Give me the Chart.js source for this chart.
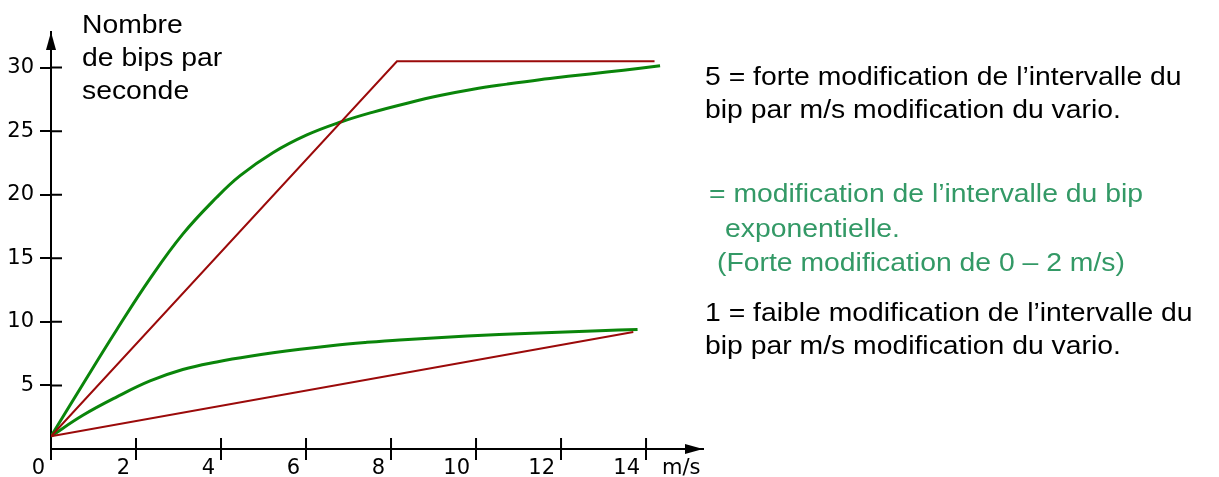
<!DOCTYPE html>
<html>
<head>
<meta charset="utf-8">
<script src="https://cdn.jsdelivr.net/npm/chart.js@4.4.1/dist/chart.umd.min.js"></script>
<style>
  body { margin: 0; background: #fff; }
  #wrap { position: relative; width: 1219px; height: 477px; overflow: hidden; }
  canvas { position: absolute; left: 0; top: 0; }
  .t { position: absolute; font-family: "Liberation Sans", Arial, sans-serif; font-size: 26px;
       line-height: 33px; white-space: nowrap; transform: scaleX(1.09); transform-origin: left center; color: #000; }
  .g { color: #339966; }
  .unit { position: absolute; font-family: "DejaVu Sans", Verdana, sans-serif; font-size: 21px;
          line-height: 24px; left: 662px; top: 455px; white-space: nowrap; }
</style>
</head>
<body>
<div id="wrap">
  <canvas id="chart" width="1219" height="477"></canvas>
  <div class="t" style="left:82px;top:8px">Nombre</div>
  <div class="t" style="left:82px;top:41px">de bips par</div>
  <div class="t" style="left:82px;top:74px">seconde</div>
  <div class="t" style="left:705px;top:60px">5 = forte modification de l’intervalle du</div>
  <div class="t" style="left:705px;top:93px">bip par m/s modification du vario.</div>
  <div class="t g" style="left:709px;top:177px">= modification de l’intervalle du bip</div>
  <div class="t g" style="left:725px;top:212px">exponentielle.</div>
  <div class="t g" style="left:717px;top:246px">(Forte modification de 0 – 2 m/s)</div>
  <div class="t" style="left:705px;top:296px">1 = faible modification de l’intervalle du</div>
  <div class="t" style="left:705px;top:329px">bip par m/s modification du vario.</div>
  <div class="unit">m/s</div>
</div>
<script>
// tick values
let xTicks = [0, 2, 4, 6, 8, 10, 12, 14];
let yTicks = [5, 10, 15, 20, 25, 30];

// 5 = strong change (linear then capped)
let redHighX = [0, 8.14, 14.2];
let redHighY = [1, 30.5, 30.5];
// exponential, strong
let greenHighX = [0, 0.75, 1.55, 2.33, 3.1, 3.9, 4.45, 5.22, 6.02, 6.8, 7.58, 8.38, 9.15, 9.93, 10.73, 11.5, 12.28, 13.08, 13.86, 14.33];
let greenHighY = [1, 5.1, 9.4, 13.4, 16.9, 19.8, 21.5, 23.3, 24.7, 25.7, 26.5, 27.2, 27.8, 28.3, 28.7, 29.05, 29.35, 29.65, 29.95, 30.15];
// exponential, weak
let greenLowX = [0, 0.75, 1.55, 2.33, 3.1, 3.9, 4.68, 5.86, 6.64, 7.4, 8.2, 9.79, 11.3, 12.9, 13.8];
let greenLowY = [1, 2.65, 4.1, 5.35, 6.25, 6.85, 7.3, 7.85, 8.15, 8.38, 8.58, 8.88, 9.1, 9.3, 9.4];
// 1 = weak change
let redLowX = [0, 13.7];
let redLowY = [1, 9.2];

function pts(xs, ys) {
  return xs.map((x, i) => ({ x: x, y: ys[i] }));
}

let red = '#9b0a0a';
let green = '#0a850a';

// inner half of tick marks + arrow heads
let axisExtras = {
  id: 'axisExtras',
  afterDraw(chart) {
    let ctx = chart.ctx;
    let xs = chart.scales.x, ys = chart.scales.y;
    let x0 = xs.getPixelForValue(0), y0 = ys.getPixelForValue(0);
    ctx.save();
    ctx.strokeStyle = '#000';
    ctx.fillStyle = '#000';
    ctx.lineWidth = 2;
    ctx.beginPath();
    xTicks.forEach(v => {
      if (v === 0) return;
      let px = xs.getPixelForValue(v);
      ctx.moveTo(px, y0);
      ctx.lineTo(px, y0 - 11);
    });
    yTicks.forEach(v => {
      let py = ys.getPixelForValue(v);
      ctx.moveTo(x0, py);
      ctx.lineTo(x0 + 11, py);
    });
    ctx.stroke();
    // y arrow
    let top = chart.chartArea.top;
    ctx.beginPath();
    ctx.moveTo(x0, top);
    ctx.lineTo(x0 - 5, top + 18);
    ctx.lineTo(x0 + 5, top + 18);
    ctx.closePath();
    ctx.fill();
    // x arrow
    let right = chart.chartArea.right;
    ctx.beginPath();
    ctx.moveTo(right, y0);
    ctx.lineTo(right - 18, y0 - 5);
    ctx.lineTo(right - 18, y0 + 5);
    ctx.closePath();
    ctx.fill();
    ctx.restore();
  }
};

new Chart(document.getElementById('chart'), {
  type: 'scatter',
  data: {
    datasets: [
      { data: pts(redLowX, redLowY), borderColor: red, borderWidth: 2, showLine: true, pointRadius: 0, tension: 0 },
      { data: pts(redHighX, redHighY), borderColor: red, borderWidth: 2, showLine: true, pointRadius: 0, tension: 0 },
      { data: pts(greenLowX, greenLowY), borderColor: green, borderWidth: 3, showLine: true, pointRadius: 0, tension: 0.4 },
      { data: pts(greenHighX, greenHighY), borderColor: green, borderWidth: 3, showLine: true, pointRadius: 0, tension: 0.4 }
    ]
  },
  options: {
    responsive: false,
    animation: false,
    devicePixelRatio: 1,
    layout: { padding: { left: 0, right: 516, top: 32, bottom: 0 } },
    plugins: { legend: { display: false }, tooltip: { enabled: false } },
    scales: {
      x: {
        type: 'linear',
        min: 0,
        max: 15.34,
        afterBuildTicks: s => { s.ticks = xTicks.map(v => ({ value: v })); },
        afterFit: s => { s.height = 28; },
        border: { display: true, color: '#000', width: 2 },
        grid: { drawOnChartArea: false, drawTicks: true, tickLength: 11, color: '#000', lineWidth: 2 },
        ticks: { align: 'end', labelOffset: -6, padding: -4, color: '#000', maxRotation: 0, autoSkip: false,
                 font: { family: 'DejaVu Sans', size: 21 } }
      },
      y: {
        type: 'linear',
        min: 0,
        max: 32.8,
        afterBuildTicks: s => { s.ticks = yTicks.map(v => ({ value: v })); },
        afterFit: s => { s.width = 51; },
        border: { display: true, color: '#000', width: 2 },
        grid: { drawOnChartArea: false, drawTicks: true, tickLength: 11, color: '#000', lineWidth: 2 },
        ticks: { padding: 6, color: '#000', autoSkip: false, font: { family: 'DejaVu Sans', size: 21 } }
      }
    }
  },
  plugins: [axisExtras]
});
</script>
</body>
</html>
